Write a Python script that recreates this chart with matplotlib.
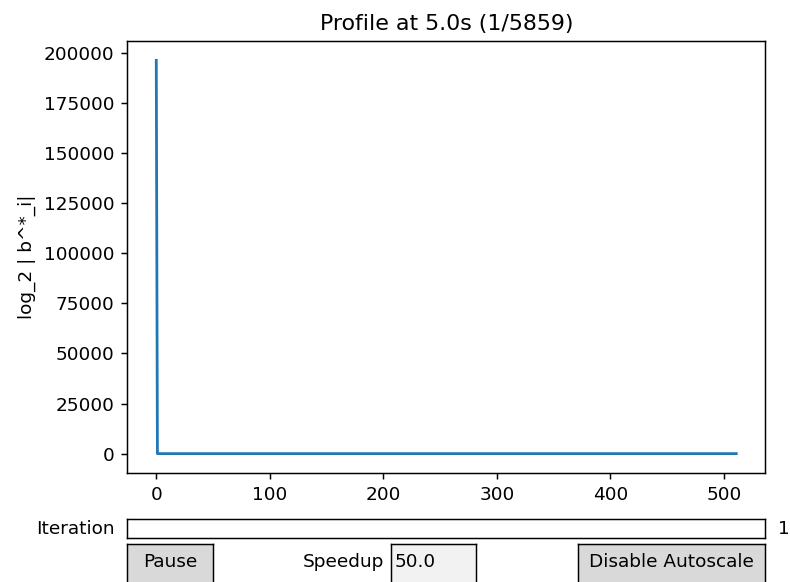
import matplotlib
matplotlib.use("Agg")
import matplotlib.pyplot as plt

# Data
iterations = [0, 1, 511]
log2_values = [196200, 0, 0]
title_text = "Profile at 5.0s (1/5859)"
ylabel_text = "log_2 | b^*_i|"
slider_label = "Iteration"
slider_value = "1"
pause_label = "Pause"
speedup_label = "Speedup"
speedup_value = "50.0"
autoscale_label = "Disable Autoscale"

S = 1.33
plt.rcParams.update({
    "font.size": 10 * S,
    "axes.titlesize": 12 * S,
    "axes.labelsize": 10 * S,
    "xtick.labelsize": 10 * S,
    "ytick.labelsize": 10 * S,
    "xtick.major.size": 3.5 * S,
    "ytick.major.size": 3.5 * S,
    "xtick.major.pad": 3.5 * S,
    "ytick.major.pad": 3.5 * S,
    "xtick.major.width": 0.8 * S,
    "ytick.major.width": 0.8 * S,
    "axes.linewidth": 0.8 * S,
    "lines.linewidth": 1.5 * S,
    "axes.titlepad": 6 * S,
    "axes.labelpad": 4 * S,
})

W, H = 790, 582
fig = plt.figure(figsize=(W / 100, H / 100), dpi=100)

ax = fig.add_axes([0.1611, 0.1868, 0.8076, 0.7433])
ax.plot(iterations, log2_values, color="#1f77b4")
ax.set_title(title_text)
ax.set_ylabel(ylabel_text)

fs = 10 * S

# Slider (drawn as a plain box)
sax = fig.add_axes([0.1611, 0.0761, 0.8076, 0.0316])
sax.set_xticks([])
sax.set_yticks([])
sax.set_facecolor("white")
sax.text(-0.02, 0.5, slider_label, transform=sax.transAxes, ha="right", va="center", fontsize=fs)
sax.text(1.02, 0.5, slider_value, transform=sax.transAxes, ha="left", va="center", fontsize=fs)

btn_bottom = -0.012
btn_height = 0.0768
ty = 0.6

def make_button(left, width, label, face="0.85", align="center"):
    bax = fig.add_axes([left, btn_bottom, width, btn_height])
    bax.set_xticks([])
    bax.set_yticks([])
    bax.set_facecolor(face)
    if align == "center":
        bax.text(0.5, ty, label, transform=bax.transAxes, ha="center", va="center", fontsize=fs)
    else:
        bax.text(0.04, ty, label, transform=bax.transAxes, ha="left", va="center", fontsize=fs)
    return bax

make_button(0.1611, 0.108, pause_label)
tax = make_button(0.4946, 0.1076, speedup_value, face="0.95", align="left")
tax.text(-0.08, ty, speedup_label, transform=tax.transAxes, ha="right", va="center", fontsize=fs)
make_button(0.7313, 0.2374, autoscale_label)

fig.savefig("out.png", dpi=100)
